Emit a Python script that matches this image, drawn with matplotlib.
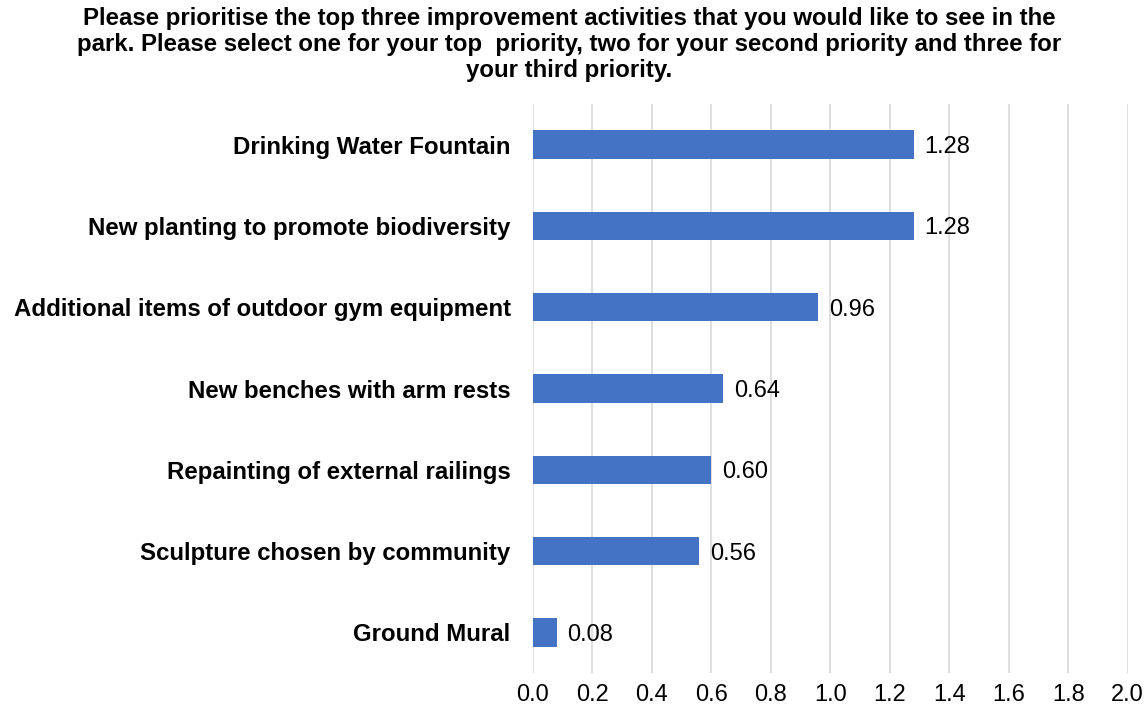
import matplotlib
matplotlib.use("Agg")
import matplotlib.pyplot as plt

categories = ["Drinking Water Fountain", "New planting to promote biodiversity",
              "Additional items of outdoor gym equipment", "New benches with arm rests",
              "Repainting of external railings", "Sculpture chosen by community", "Ground Mural"]
values = [1.28, 1.28, 0.96, 0.64, 0.60, 0.56, 0.08]
xticks = [0.0, 0.2, 0.4, 0.6, 0.8, 1.0, 1.2, 1.4, 1.6, 1.8, 2.0]
title = ("Please prioritise the top three improvement activities that you would like to see in the\n"
         "park. Please select one for your top  priority, two for your second priority and three for\n"
         "your third priority.")

plt.rcParams['font.family'] = ['Liberation Sans', 'DejaVu Sans']

fig = plt.figure(figsize=(11.46, 7.11), dpi=100)
ax = fig.add_axes([0.465, 0.0534, 0.519, 0.8003])

ypos = list(range(len(categories)))
ax.barh(ypos, values, height=0.35, color="#4472C4", zorder=3)
ax.set_ylim(len(categories) - 0.5, -0.5)
ax.set_xlim(0, 2.0)
ax.set_xticks(xticks)
ax.set_xticklabels([f"{t:.1f}" for t in xticks], fontsize=17, color="#000000")
ax.set_yticks(ypos)
ax.set_yticklabels(categories, fontsize=17.3, fontweight="bold")
ax.tick_params(axis="y", length=0, pad=16)
ax.tick_params(axis="x", length=0, pad=8)
for s in ax.spines.values():
    s.set_visible(False)
ax.grid(axis="x", color="#D9D9D9", linewidth=1.2, zorder=0)
ax.set_axisbelow(True)

for y, v in zip(ypos, values):
    ax.text(v + 0.035, y, f"{v:.2f}", va="center_baseline", ha="left", fontsize=17)

fig.text(0.497, 0.99, title, ha="center", va="top", fontsize=17.3, fontweight="bold",
         linespacing=1.17)

fig.savefig("out.png", dpi=100)
